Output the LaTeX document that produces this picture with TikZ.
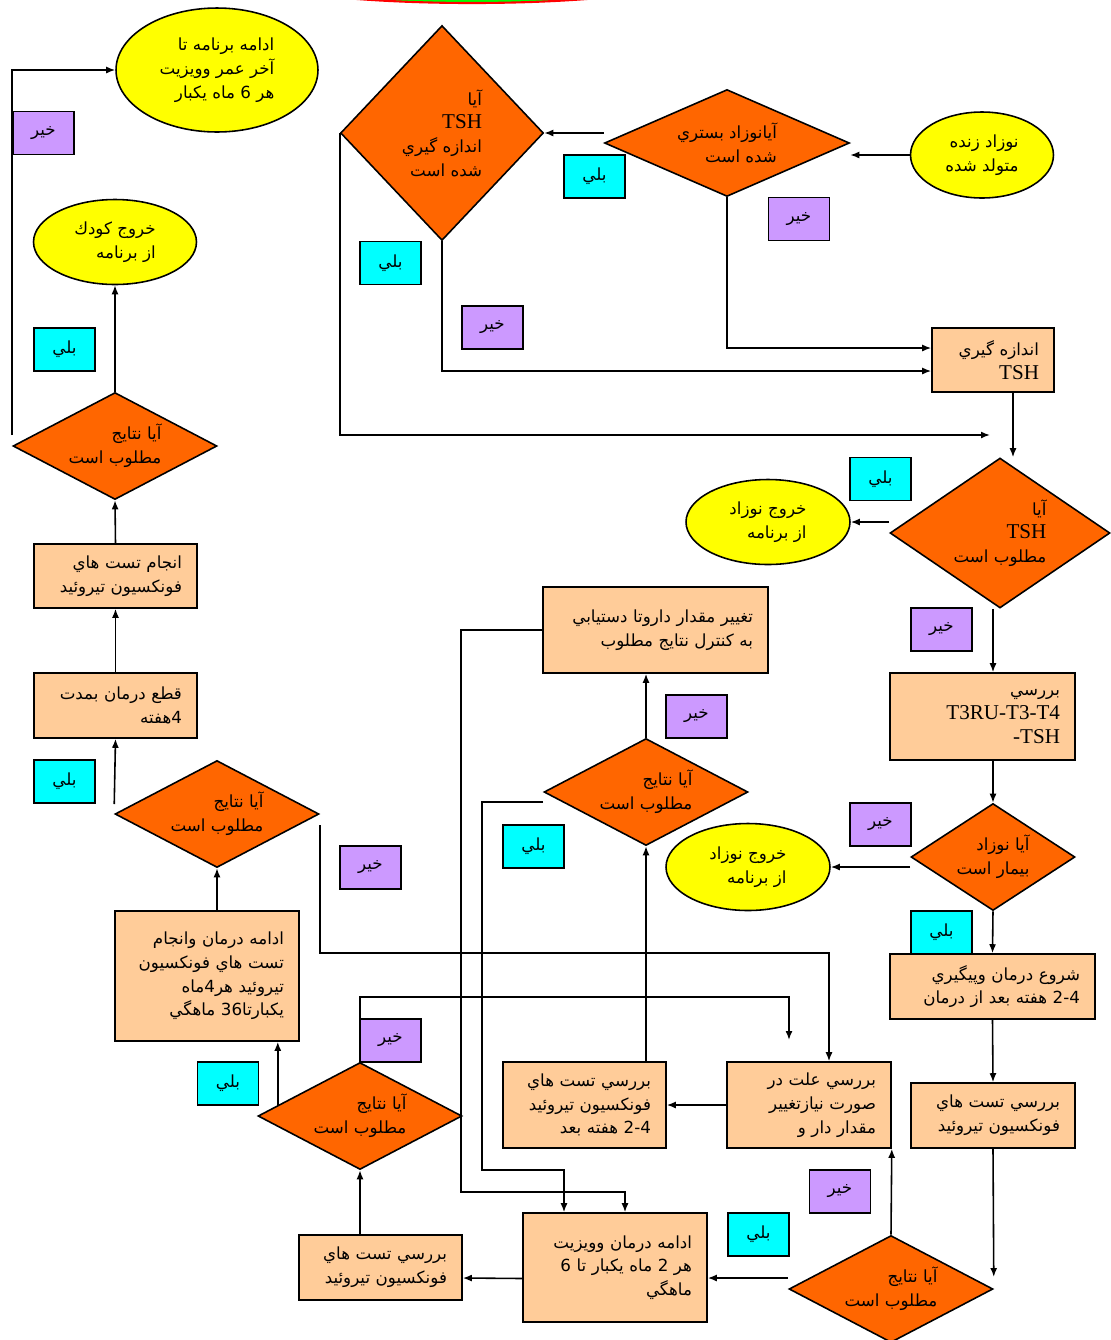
\documentclass[tikz,border=0pt]{standalone}
\usepackage{fontspec}
\setmainfont{Liberation Serif}
\newfontfamily\arabicfont[Script=Arabic]{DejaVu Sans}
\TeXXeTstate=1
\usetikzlibrary{arrows.meta, positioning, shapes.geometric, calc}
\newcommand{\fatext}[1]{{\arabicfont\beginR #1\endR}}
\newcommand{\lat}[1]{{\fontsize{12}{14}\selectfont #1}}
\newcommand{\yesTag}[2]{\node(#1)[yesBox] at (#2) {\fatext{بلي}};}
\newcommand{\noTag}[2]{\node(#1)[noBox] at (#2) {\fatext{خير}};}
\definecolor{termYellow}{HTML}{FFFF00}
\definecolor{decOrange}{HTML}{FF6600}
\definecolor{procPeach}{HTML}{FFCC99}
\definecolor{yesCyan}{HTML}{00FFFF}
\definecolor{noViolet}{HTML}{CC99FF}
\tikzset{
  base/.style = {
    draw,
    line width=0.9pt,
    font=\fontsize{9.5}{13.5}\selectfont,
  },
  terminal/.style = {
    base,
    ellipse,
    fill=termYellow,
    align=right,
    inner sep=0pt,
  },
  decision/.style = {
    base,
    diamond,
    fill=decOrange,
    align=right,
    inner sep=0pt,
    minimum width=4.08cm,
    minimum height=2.14cm,
    shape aspect=2,
  },
  process/.style = {
    base,
    rectangle,
    fill=procPeach,
    align=right,
    inner xsep=0.3cm,
    inner ysep=2pt,
  },
  yesBox/.style = {
    base,
    fill=yesCyan,
    minimum width=1.22cm,
    minimum height=0.86cm,
  },
  noBox/.style = {
    base,
    fill=noViolet,
    minimum width=1.22cm,
    minimum height=0.86cm,
  },
  flow/.style = {
    -{Latex[length=1.8mm, width=1.4mm]},
    line width=0.9pt,
  },
}

\begin{document}
\begin{tikzpicture}[x=0.02cm, y=-0.02cm]

\useasboundingbox[fill=white] (0,0) rectangle (1110,1340);
\draw[red, fill=green, line width=1.2pt] (472,-30) ellipse [x radius=4.8cm, y radius=0.66cm];

\node(born)[terminal, minimum width=2.86cm, minimum height=1.72cm] at (982,155)
  {\fatext{نوزاد زنده}\\\fatext{متولد شده}};
\node(admitted)[decision, minimum width=4.9cm, shape aspect=2.3] at (727,143)
  {\fatext{آيانوزاد بستري}\\\fatext{شده است}};
\node(measured)[decision, minimum width=4.06cm, minimum height=4.3cm, shape aspect=1] at (442,133)
  {\fatext{آيا}\\\lat{TSH}\\\fatext{اندازه گيري}\\\fatext{شده است}};
\node(measure)[process, minimum width=2.44cm, minimum height=1.28cm, text width=1.84cm] at (993,360)
  {\fatext{اندازه گيري}\\\lat{TSH}\hspace{0.2cm}};
\node(tshOk)[decision, minimum width=4.4cm, minimum height=3cm, shape aspect=1.4] at (1000,533)
  {\fatext{آيا}\\\lat{TSH}\\\fatext{مطلوب است}};
\node(exitA)[terminal, minimum width=3.28cm, minimum height=1.7cm] at (768,522)
  {\fatext{خروج نوزاد}\\\fatext{از برنامه}};
\node(check)[process, minimum width=3.7cm, minimum height=1.74cm, text width=3.1cm] at (982.5,716.5)
  {\fatext{بررسي}\\\lat{T3RU-T3-T4}\\\lat{-TSH}};
\node(sick)[decision, minimum width=3.28cm, shape aspect=1.6] at (993,857)
  {\fatext{آيا نوزاد}\\\fatext{بيمار است}};
\node(exitB)[terminal, minimum width=3.28cm, minimum height=1.74cm] at (748,867)
  {\fatext{خروج نوزاد}\\\fatext{از برنامه}};
\node(treat)[process, minimum width=4.1cm, minimum height=1.3cm, text width=3.5cm] at (992.5,986.5)
  {\fatext{شروع درمان وپيگيري}\\\fatext{\beginL 2-4\endL{} هفته بعد از درمان}};
\node(testA)[process, minimum width=3.28cm, minimum height=1.3cm, text width=2.68cm] at (993,1115.5)
  {\fatext{بررسي تست هاي}\\\fatext{فونكسيون تيروئيد}};
\node(okA)[decision] at (891,1289)
  {\fatext{آيا نتايج}\\\fatext{مطلوب است}};
\node(cause)[process, minimum width=3.28cm, minimum height=1.72cm, text width=2.68cm] at (809,1105)
  {\fatext{بررسي علت در}\\\fatext{صورت نيازتغيير}\\\fatext{مقدار  دار و}};
\node(testB)[process, minimum width=3.26cm, minimum height=1.72cm, text width=2.66cm] at (584.5,1105)
  {\fatext{بررسي تست هاي}\\\fatext{فونكسيون تيروئيد}\\\fatext{\beginL 2-4\endL{} هفته بعد}};
\node(okB)[decision] at (646,792)
  {\fatext{آيا نتايج}\\\fatext{مطلوب است}};
\node(dose)[process, minimum width=4.5cm, minimum height=1.72cm, text width=3.9cm] at (655.5,630)
  {\fatext{تغيير مقدار داروتا دستيابي}\\\fatext{به كنترل نتايج مطلوب}};
\node(visit)[process, minimum width=3.68cm, minimum height=2.18cm, text width=3.08cm] at (615,1267.5)
  {\fatext{ادامه درمان وويزيت}\\\fatext{هر 2 ماه يكبار تا 6}\\\fatext{ماهگي}};
\node(testC)[process, minimum width=3.26cm, minimum height=1.3cm, text width=2.66cm] at (380.5,1267.5)
  {\fatext{بررسي تست هاي}\\\fatext{فونكسيون تيروئيد}};
\node(okC)[decision] at (360,1116)
  {\fatext{آيا نتايج}\\\fatext{مطلوب است}};
\node(continue)[process, minimum width=3.68cm, minimum height=2.6cm, text width=3.08cm] at (207,976)
  {\fatext{ادامه درمان وانجام}\\\fatext{تست هاي فونكسيون}\\\fatext{تيروئيد هر\beginL 4\endL{}ماه}\\\fatext{يكبارتا\beginL 36\endL{} ماهگي}};
\node(okD)[decision] at (217,814)
  {\fatext{آيا نتايج}\\\fatext{مطلوب است}};
\node(stop)[process, minimum width=3.26cm, minimum height=1.3cm, text width=2.66cm] at (115.5,705.5)
  {\fatext{قطع درمان بمدت}\\\fatext{\beginL 4\endL{}هفته}};
\node(testD)[process, minimum width=3.26cm, minimum height=1.28cm, text width=2.66cm] at (115.5,576)
  {\fatext{انجام تست هاي}\\\fatext{فونكسيون تيروئيد}};
\node(okE)[decision] at (115,446)
  {\fatext{آيا نتايج}\\\fatext{مطلوب است}};
\node(exitChild)[terminal, minimum width=3.26cm, minimum height=1.7cm] at (115,242)
  {\fatext{خروج كودك}\\\fatext{از برنامه}};
\node(lifelong)[terminal, minimum width=4.04cm, minimum height=2.48cm] at (217,70)
  {\fatext{ادامه برنامه تا}\\\fatext{آخر عمر وويزيت}\\\fatext{هر 6 ماه يكبار}};

\noTag{noA}{43.5,133}
\yesTag{yesA}{64.5,349.5}
\yesTag{yesB}{64.5,781.5}
\noTag{noB}{370.5,867.5}
\yesTag{yesC}{228,1083.5}
\noTag{noC}{390.5,1040.5}
\noTag{noD}{696.5,716.5}
\yesTag{yesD}{533.5,846.5}
\noTag{noE}{840,1191.5}
\yesTag{yesE}{758.5,1234.5}
\yesTag{yesF}{941.5,932.5}
\noTag{noF}{880.5,824.5}
\yesTag{yesG}{880.5,479}
\noTag{noG}{941.5,629.5}
\yesTag{yesH}{594.5,176.5}
\noTag{noH}{799,219}
\yesTag{yesI}{390.5,263}
\noTag{noI}{492.5,327.5}

\coordinate (column) at (993,0);
\coordinate (tshIn) at (990,435);
\coordinate (measureOut) at (1013,392);
\coordinate (okCEdge) at ($(okC.west)!0.2!(okC.north)$);
\coordinate (causeIn) at (789,1040);
\coordinate (bendA) at (564,1170);
\coordinate (bendB) at (625,1192);
\coordinate (bendC) at (829,953);

\draw[flow] (born.west) -- (born.west -| admitted.east);
\draw[flow] (admitted.west |- measured.east) -- (measured.east);
\draw[flow] (admitted.south) |- ($(measure.west)+(0,-12)$);
\draw[flow] (measured.south) |- ($(measure.west)+(0,11)$);
\draw[flow] (measured.west) |- (tshIn);
\draw[flow] (measureOut) -- (measureOut |- tshOk.north);
\draw[flow] (tshOk.west |- exitA.east) -- (exitA.east);
\draw[flow] (tshOk.south -| column) -- (check.north -| column);
\draw[flow] (check.south -| column) -- (sick.north);
\draw[flow] (sick.west |- exitB.east) -- (exitB.east);
\draw[flow] (sick.south) -- (treat.north);
\draw[flow] (treat.south) -- (testA.north);
\draw[flow] (testA.south) -- ($(okA.east)+(0,-12)$);
\draw[flow] (okA.north) -- (cause.south east);
\draw[flow] ($(okA.west)+(0,-11)$) -- (visit.east |- 0,1278);
\draw[flow] ($(visit.west)+(0,11)$) -- (testC.east |- 0,1278);
\draw[flow] (okC.south |- testC.north) -- (okC.south);
\draw[flow] (okCEdge) -- (okCEdge |- continue.south);
\draw[flow] (okC.north) -- ++(0,-65) -| (causeIn);
\draw[flow] (cause.west) -- (testB.east);
\draw[flow] (okB.south |- testB.north) -- (okB.south);
\draw[flow] (okB.north) -- (okB.north |- dose.south);
\draw[flow] ($(okB.west)+(0,10)$) -- ++(-61,0) |- (bendA) -- (bendA |- visit.north);
\draw[flow] (dose.west) -- ++(-81,0) |- (bendB) -- (bendB |- visit.north);
\draw[flow] ($(okD.east)+(0,11)$) |- (bendC) -- (bendC |- cause.north);
\draw[flow] (okD.south |- continue.north) -- (okD.south);
\draw[flow] ($(okD.west)+(0,-10)$) -- (stop.south);
\draw[flow] (stop.north) -- (testD.south);
\draw[flow] (testD.north) -- (okE.south);
\draw[flow] (okE.north) -- (exitChild.south);
\draw[flow] ($(okE.west)+(0,-11)$) |- (lifelong.west);

\end{tikzpicture}
\end{document}
